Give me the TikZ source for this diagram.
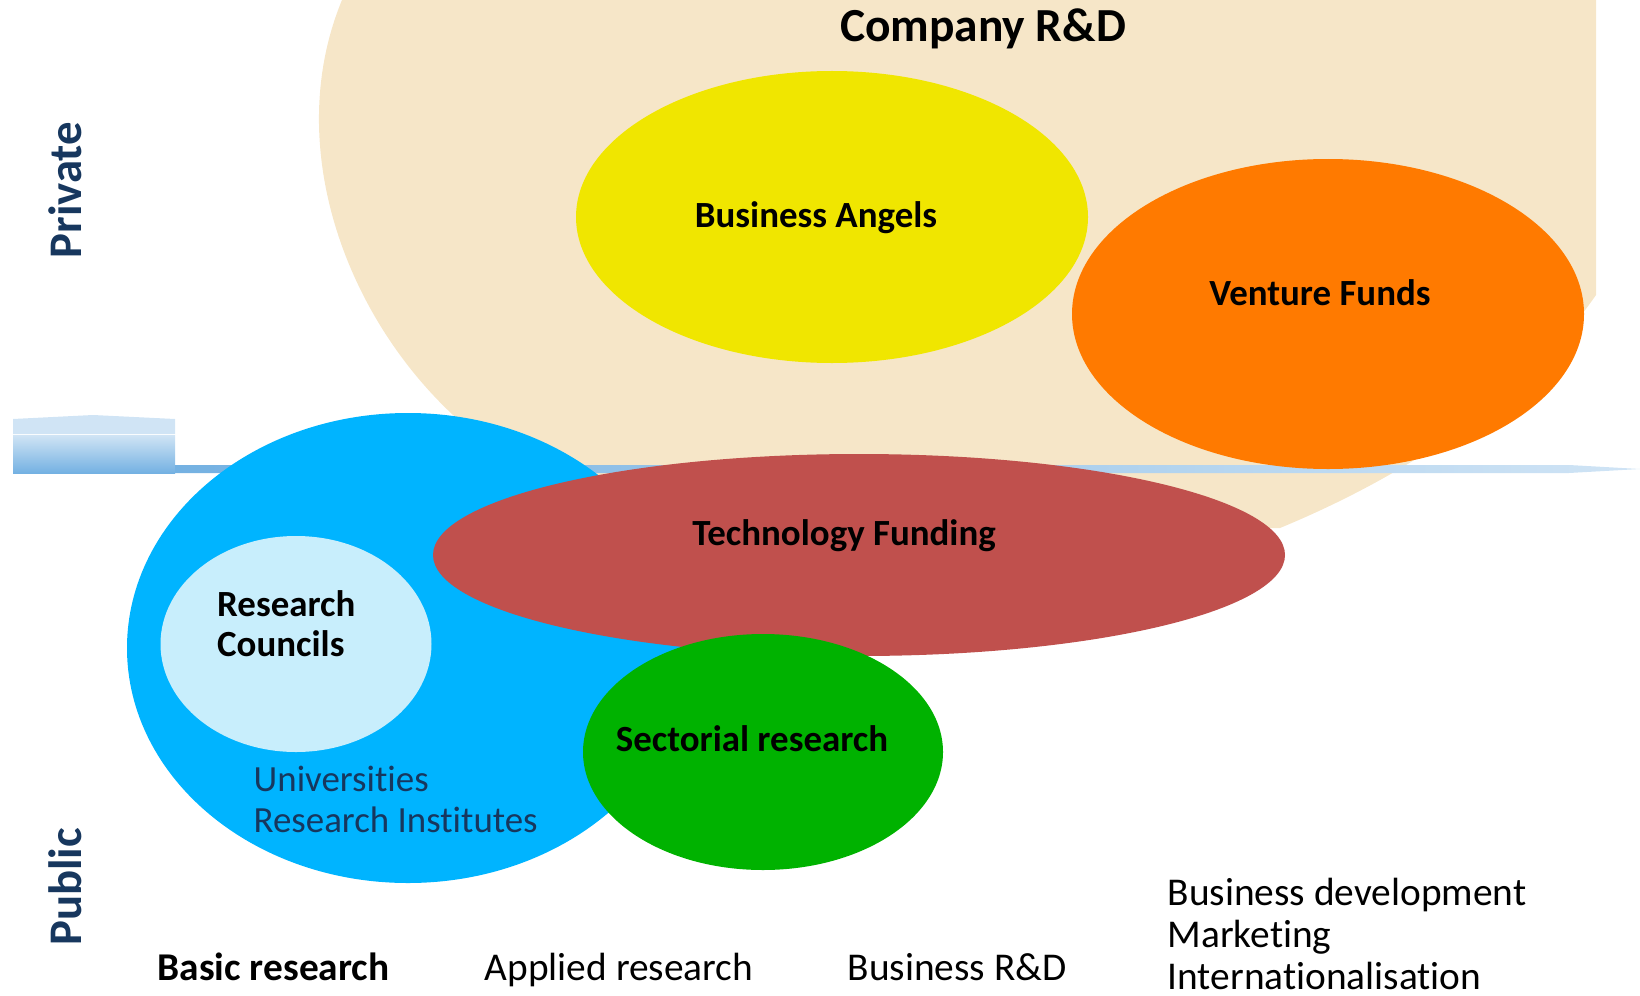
\documentclass[tikz,border=0pt]{standalone}
\usepackage{fontspec}
\setmainfont{Carlito}[Ligatures=CommonOff]
\usepackage{tikz}
\usetikzlibrary{%
  calc%
}
\definecolor{rdbeige}{RGB}{246,230,200}
\definecolor{angelyellow}{RGB}{240,230,0}
\definecolor{ventureorange}{RGB}{255,122,0}
\definecolor{uniblue}{RGB}{0,180,255}
\definecolor{councilblue}{RGB}{200,238,252}
\definecolor{techred}{RGB}{192,80,77}
\definecolor{sectorgreen}{RGB}{0,178,0}
\definecolor{barlight}{RGB}{208,228,245}
\definecolor{bardark}{RGB}{116,177,226}
\definecolor{navytext}{RGB}{23,55,94}
\tikzset{
  blob/.style={inner sep=0pt,font=\fontsize{10.5}{11.1}\selectfont\bfseries},
  axis/.style={inner sep=0pt,anchor=base west,font=\fontsize{11.2}{11.9}\selectfont},
  side/.style={inner sep=0pt,rotate=90,text=navytext,font=\fontsize{13.3}{16}\selectfont\bfseries}
}

\begin{document}
\begin{tikzpicture}
    \useasboundingbox (0,0) rectangle (16.40,9.95);
    % company R&D
    \fill[rdbeige] (3.42,9.95) -- (15.96,9.95) -- (15.96,7.00)
    .. controls (15.30,6.05) and (14.20,5.25) .. (12.80,4.67)
    -- (7.00,4.55) -- (5.40,4.95) -- (4.70,5.65)
    .. controls (3.50,6.65) and (2.80,8.45) .. (3.42,9.95) -- cycle;
    % private / public bar
    \fill[barlight] (0.13,5.61) -- (0.13,5.76) -- (0.93,5.80) -- (1.75,5.76)
    -- (1.75,5.61) -- cycle;
    \shade[top color=barlight,bottom color=bardark] (0.13,5.22) rectangle (1.75,5.60);
    \shade[left color=bardark,right color=barlight] (1.75,5.22) -- (1.75,5.30)
    -- (15.69,5.30) -- (16.40,5.26) -- (15.69,5.22) -- cycle;
    \fill[angelyellow] (8.32,7.78) ellipse (2.56 and 1.46);
    \fill[ventureorange] (13.28,6.81) ellipse (2.56 and 1.55);
    \fill[uniblue] (4.08,3.47) ellipse (2.81 and 2.35);
    \fill[councilblue] (2.96,3.51) ellipse (1.355 and 1.08);
    \fill[techred] (8.59,4.40) ellipse (4.26 and 1.01);
    \fill[sectorgreen] (7.63,2.43) ellipse (1.80 and 1.18);
    % labels
    \node[blob,anchor=base,font=\fontsize{13.5}{16}\selectfont\bfseries] (rd) at (9.83,9.54)
    {Company R\&D};
    \node[blob,anchor=base] (angels) at (8.16,7.68) {Business Angels};
    \node[blob,anchor=base] (venture) at (13.20,6.90) {Venture Funds};
    \node[blob,anchor=base] (tech) at (8.44,4.50) {Technology Funding};
    \node[blob,anchor=base west,align=left] (councils) at (2.165,3.39)
    {Research\\Councils};
    \node[blob,anchor=base] (sector) at (7.52,2.435) {Sectorial research};
    \node[inner sep=0pt,anchor=base west,align=left,text=navytext,
    font=\fontsize{10.5}{11.4}\selectfont] (unis) at (2.53,1.63)
    {Universities\\Research Institutes};
    \node[axis] (basic) at (1.57,0.15) {\bfseries Basic research};
    \node[axis] (applied) at (4.84,0.15) {Applied research};
    \node[axis] (busrd) at (8.47,0.15) {Business R\&D};
    \node[axis,align=left] (busdev) at (11.67,0.06)
    {Business development\\Marketing\\Internationalisation};
    \node[side] (private) at (0.65,8.05) {Private};
    \node[side] (public) at (0.65,1.08) {Public};
  \end{tikzpicture}
\end{document}
